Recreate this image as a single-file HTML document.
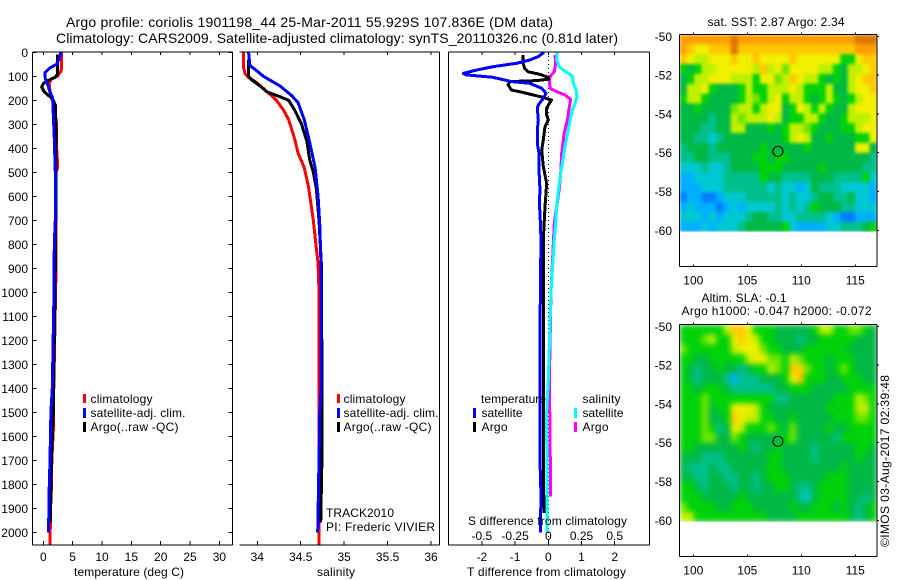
<!DOCTYPE html>
<html lang="en">
<head>
<meta charset="utf-8">
<title>Argo profile 1901198_44</title>
<style>
html,body{margin:0;padding:0;background:#fff;}
svg{display:block;font-family:"Liberation Sans",sans-serif;fill:#000;}
text{font-size:12px;}
.ttl{font-size:14px;}
</style>
</head>
<body>
<svg id="chart" xmlns="http://www.w3.org/2000/svg" width="900" height="580" viewBox="0 0 900 580">
<defs>
<filter id="blurSst" x="0" y="0" width="100%" height="100%" color-interpolation-filters="sRGB"><feGaussianBlur stdDeviation="1.6" edgeMode="duplicate"/></filter>
<filter id="blurSla" x="0" y="0" width="100%" height="100%" color-interpolation-filters="sRGB"><feGaussianBlur stdDeviation="3" edgeMode="duplicate"/></filter>
<clipPath id="clipSst"><rect x="679.4" y="34.5" width="197.6" height="197.2"/></clipPath>
<clipPath id="clipSla"><rect x="679.4" y="324.5" width="197.6" height="197.2"/></clipPath>
</defs>
<rect x="0" y="0" width="900" height="580" fill="#fff"/>
<text class="ttl" x="66" y="27" textLength="487">Argo profile: coriolis 1901198_44 25-Mar-2011 55.929S 107.836E (DM data)</text>
<text class="ttl" x="56" y="43" textLength="562">Climatology: CARS2009. Satellite-adjusted climatology: synTS_20110326.nc (0.81d later)</text>
<g clip-path="url(#clipSst)"><g id="sstCells" filter="url(#blurSst)"></g></g>
<g clip-path="url(#clipSla)"><g id="slaCells" filter="url(#blurSla)"></g></g>
<g id="marks"></g>
<g id="axes"></g>

<text x="74" y="576" textLength="110">temperature (deg C)</text>
<text x="317" y="576" textLength="38">salinity</text>
<text x="467" y="576" textLength="159">T difference from climatology</text>
<text x="468" y="525" textLength="159">S difference from climatology</text>

<g>
<rect x="83" y="394" width="3" height="9" fill="#f00"/>
<text x="90.5" y="403" textLength="62">climatology</text>
<rect x="83" y="408" width="3" height="10" fill="#00f"/>
<text x="90.5" y="417" textLength="95">satellite-adj. clim.</text>
<rect x="83" y="422" width="3" height="10" fill="#000"/>
<text x="90.5" y="431" textLength="88">Argo(..raw -QC)</text>
</g>
<g>
<rect x="337" y="394" width="3" height="9" fill="#f00"/>
<text x="343.5" y="403" textLength="62">climatology</text>
<rect x="337" y="408" width="3" height="10" fill="#00f"/>
<text x="343.5" y="417" textLength="95">satellite-adj. clim.</text>
<rect x="337" y="422" width="3" height="10" fill="#000"/>
<text x="343.5" y="431" textLength="88">Argo(..raw -QC)</text>
</g>
<text x="326" y="517" textLength="68">TRACK2010</text>
<text x="326" y="531" textLength="109">PI: Frederic VIVIER</text>

<g>
<text x="481" y="403" textLength="65">temperature</text>
<rect x="473" y="408" width="3" height="10" fill="#00f"/>
<text x="481.5" y="417" textLength="41">satellite</text>
<rect x="473" y="422" width="3" height="10" fill="#000"/>
<text x="481.5" y="431" textLength="26">Argo</text>
<text x="582.5" y="403" textLength="38">salinity</text>
<rect x="574" y="408" width="3" height="10" fill="#0ff"/>
<text x="582.5" y="417" textLength="41">satellite</text>
<rect x="574" y="422" width="3" height="10" fill="#f0f"/>
<text x="582.5" y="431" textLength="26">Argo</text>
</g>

<text x="707.5" y="26" textLength="137">sat. SST: 2.87 Argo: 2.34</text>
<text x="701.5" y="302" textLength="85">Altim. SLA: -0.1</text>
<text x="681.5" y="315" textLength="190">Argo h1000: -0.047 h2000: -0.072</text>
<text transform="translate(889,547) rotate(-90)" textLength="172">©IMOS 03-Aug-2017 02:39:48</text>
</svg>

<script>
// ---------- profile data ----------
const depthTicks = [0,100,200,300,400,500,600,700,800,900,1000,1100,1200,1300,1400,1500,1600,1700,1800,1900,2000];
const tempTicks = [0,5,10,15,20,25,30];
const salTicks = [34,34.5,35,35.5,36];
const salTickLabels = ['34','34.5','35','35.5','36'];
const tDiffTicks = [-2,-1,0,1,2];
const sDiffTicks = [-0.5,-0.25,0,0.25,0.5];
const sDiffTickLabels = ['-0.5','-0.25','0','0.25','0.5'];
const lonTicks = [100,105,110,115];
const latTicks = [-50,-52,-54,-56,-58,-60];

const tempClimDepth = [0,70,80,100,110,130,160,190,220,300,400,465,480,500,900,1000,1500,1550,1700,1800,1900,2053];
const tempClimValue = [3.1,3.1,3.0,2.4,1.4,1.0,1.14,1.4,1.8,2.27,2.27,2.44,2.44,2.16,2.16,2.1,1.7,1.75,1.45,1.4,1.25,1.14];
const tempArgoDepth = [10,90,105,120,130,145,165,185,200,220,300,400,500,650,800,900,1000,1500,1700,1900,1960];
const tempArgoValue = [2.44,2.44,2.0,0.57,0,-0.28,0.17,1.14,1.7,2.05,2.16,2.16,2.16,2.16,2.05,2.05,2.0,1.7,1.4,1.25,1.2];
const tempSatDepth = [0,20,50,65,85,110,130,165,190,260,360,500,700,800,1000,1400,1500,1700,1850,2000];
const tempSatValue = [2.95,2.84,2.27,1.14,0.28,0.34,0.68,1.14,1.6,1.7,1.87,2.05,2.05,1.87,1.82,1.53,1.3,1.14,0.97,0.9];

const salClimDepth = [0,60,90,105,125,170,200,240,280,360,420,480,560,700,800,880,1000,2053];
const salClimValue = [33.84,33.84,33.86,33.90,33.99,34.13,34.22,34.30,34.36,34.43,34.47,34.54,34.59,34.645,34.675,34.70,34.71,34.71];
const salArgoDepth = [30,100,115,140,165,185,200,240,300,370,450,500,570,700,900,1000,1500,1680,1960];
const salArgoValue = [33.90,33.90,33.935,34.03,34.11,34.26,34.36,34.43,34.51,34.57,34.605,34.645,34.68,34.71,34.74,34.74,34.745,34.745,34.73];
const salSatDepth = [0,55,70,100,140,180,210,280,370,480,600,720,900,1400,1500,1700,2000];
const salSatValue = [33.90,33.915,33.97,34.07,34.26,34.395,34.47,34.54,34.60,34.665,34.70,34.72,34.735,34.735,34.72,34.71,34.695];

const diffTSatDepth = [0,18,32,46,60,74,88,94,104,122,129,150,171,192,219,233,282,324,379,421,476,518,574,629,671,782,1000,1365,1700,1850,2000];
const diffTSatValue = [-0.13,-0.30,-0.56,-0.96,-1.67,-2.17,-2.56,-2.47,-1.67,-1.11,-0.56,-0.2,-0.07,-0.15,-0.3,-0.33,-0.3,-0.33,-0.33,-0.28,-0.28,-0.27,-0.25,-0.27,-0.25,-0.22,-0.24,-0.25,-0.25,-0.22,-0.24];
const diffTArgoDepth = [11,46,67,81,92,104,112,118,122,136,157,164,178,188,199,208,233,261,282,310,365,407,476,546,588,643,782,1365,1700,1920];
const diffTArgoValue = [-0.76,-0.76,-0.71,-0.61,-0.25,0,0,-0.35,-1.16,-1.21,-1.11,-0.86,-0.45,-0.15,0.1,0.05,-0.05,-0.05,0,-0.1,-0.15,-0.2,-0.15,-0.05,-0.07,-0.1,-0.15,-0.15,-0.15,-0.13];
const diffSSatDepth = [0,32,60,74,88,101,129,157,185,213,240,282,338,393,449,504,574,643,713,782,1000,1365,1500,2000];
const diffSSatValue = [0.068,0.063,0.083,0.114,0.152,0.182,0.189,0.21,0.215,0.202,0.182,0.164,0.146,0.126,0.109,0.093,0.076,0.063,0.056,0.045,0.02,0,-0.013,-0.008];
const diffSArgoDepth = [11,46,81,101,122,150,164,178,196,226,282,338,421,504,574,713,1000,1365,1700,1850];
const diffSArgoValue = [0.05,0.056,0.045,0.013,0.008,0.013,0.063,0.126,0.169,0.159,0.144,0.119,0.101,0.093,0.081,0.045,0.02,0.008,0.015,0.015];

// ---------- map data: colour level per grid cell, north to south ----------
const sstLevels = [
[10,10,10,10,10,10,10,11,10,10,10,10,10,10,10,10,10,10,10,10,10,10,10,10,11,11,11],
[10,9,8,8,9,9,9,11,9,9,9,9,9,9,9,9,9,9,9,9,9,9,9,9,10,10,10],
[9,8,7,7,8,8,8,9,8,8,9,8,8,8,8,9,8,8,8,8,8,8,5,5,8,9,9],
[5,4,5,7,7,8,8,8,8,8,7,9,7,8,6,8,8,8,8,7,7,5,4,7,7,8,9],
[4,5,7,7,8,8,8,7,7,7,5,8,8,6,7,9,8,7,7,5,4,5,4,7,8,9,9],
[4,7,7,8,5,4,4,4,5,7,5,5,7,7,7,8,7,5,5,5,7,4,4,7,8,8,9],
[5,7,7,5,4,4,4,4,5,7,6,5,7,8,5,7,7,5,4,5,7,5,4,5,7,8,8],
[4,4,5,4,4,4,4,6,7,7,5,7,8,8,4,5,8,7,5,7,5,4,4,7,8,8,8],
[4,4,4,4,3,4,4,7,6,7,7,7,8,7,4,5,5,7,7,5,4,4,5,7,7,7,8],
[4,4,4,3,3,4,4,7,7,4,4,4,5,4,5,7,7,6,5,4,4,4,5,5,7,8,8],
[4,4,3,3,2,3,4,4,4,4,4,4,4,4,5,7,8,7,4,4,5,4,4,4,5,5,8],
[3,4,4,4,3,4,4,4,4,4,4,5,4,4,4,4,4,5,4,4,4,4,4,4,8,8,4],
[3,3,4,4,3,3,3,4,4,4,5,5,4,5,5,4,4,4,4,4,4,4,4,4,4,4,3],
[2,2,2,3,2,2,3,4,4,4,4,5,5,5,4,4,4,4,4,5,4,4,4,4,4,3,3],
[1,1,2,2,2,2,3,3,3,3,3,5,4,4,3,3,3,3,4,4,4,3,3,3,3,5,2],
[1,1,1,2,2,2,3,3,3,3,3,3,2,3,2,2,1,2,4,3,3,3,2,2,2,2,1],
[0,1,1,0,0,1,2,2,2,3,3,3,3,3,2,3,2,2,3,4,4,3,3,4,2,2,1],
[1,2,1,1,1,0,1,2,1,2,2,2,2,3,2,3,2,3,5,4,4,4,3,3,2,2,2],
[2,2,2,1,2,1,2,2,2,3,4,4,3,3,2,2,3,3,3,3,2,1,0,0,1,1,1],
[1,1,1,2,1,2,2,2,3,4,4,4,4,4,5,2,1,1,1,1,2,2,3,3,3,4,5]
];
const slaLevels = [
[5,5,5,5,5,5,7,9,9,8,5,5,5,4,4,4,4,4,5,7,7,5,5,6,6,5,4],
[5,5,5,6,7,5,5,8,9,8,7,5,5,4,4,4,3,4,4,5,5,5,5,5,4,4,4],
[6,5,5,5,5,5,5,7,8,8,8,6,5,5,4,4,4,5,5,5,5,5,5,4,4,4,4],
[5,5,4,4,5,5,5,5,5,7,8,8,6,6,5,7,6,5,5,5,4,5,5,5,4,4,4],
[5,4,3,4,4,5,4,4,3,4,5,5,7,6,5,9,9,6,5,5,4,5,6,5,4,4,4],
[5,4,3,4,4,4,3,1,3,3,3,4,4,4,5,8,9,5,5,5,4,4,5,5,5,4,4],
[5,5,4,5,5,5,4,3,3,3,3,3,3,4,4,5,5,5,4,4,4,4,4,5,5,5,5],
[5,5,5,6,5,5,5,5,5,5,5,5,5,3,3,4,4,4,4,4,4,5,5,5,7,6,5],
[5,5,5,6,4,5,5,8,8,8,7,5,4,4,4,4,4,4,4,4,5,5,5,5,7,7,5],
[5,5,5,6,4,4,5,9,8,7,7,5,5,4,4,5,4,4,4,4,4,5,5,5,6,6,5],
[5,5,5,6,5,3,4,8,7,5,5,5,6,5,4,6,4,4,4,4,5,4,4,5,5,5,5],
[5,5,5,6,6,4,4,6,5,4,4,4,4,4,5,6,4,4,4,4,4,3,5,5,5,5,5],
[5,5,4,4,4,4,4,4,5,4,3,4,4,5,4,4,4,4,3,4,4,4,4,4,5,5,4],
[4,4,4,3,3,3,4,4,4,4,4,4,5,5,4,4,4,4,3,4,4,4,4,4,5,4,4],
[4,3,3,3,4,3,3,4,4,4,4,4,5,5,4,4,4,4,4,4,4,4,5,4,4,4,4],
[4,4,3,3,4,4,3,3,4,4,3,4,5,5,5,4,4,4,4,4,5,5,5,4,4,4,4],
[5,5,4,3,4,4,4,3,4,4,3,4,4,5,5,4,3,3,4,5,5,5,5,4,4,4,4],
[5,5,5,4,4,4,4,4,5,4,4,4,4,4,4,4,3,2,4,5,5,5,5,4,4,3,4],
[6,5,5,5,5,4,4,5,5,5,4,4,4,4,4,5,4,4,5,5,5,4,5,4,3,4,5],
[7,7,5,5,5,5,5,5,5,5,5,5,4,4,4,4,5,5,5,5,5,5,5,4,3,4,5]
];
const levelColors = ['#0080ff','#00b0ff','#00c8d2','#00c08c','#00b846','#00d20a','#6ee600','#bef000','#f0f000','#ffc800','#ffa000','#dc7800'];
const profileLon = [107.836];
const profileLat = [-55.929];

// ---------- axis functions ----------
const NS = 'http://www.w3.org/2000/svg';
const marks = document.getElementById('marks');
const axes = document.getElementById('axes');
const sstCells = document.getElementById('sstCells');
const slaCells = document.getElementById('slaCells');
const yDepth = d => 52.3 + 0.24 * d;
const xTemp = t => 43.3 + 5.87 * t;
const xSal = s => 257.3 + 86.85 * (s - 34);
const xTDiff = t => 548.3 + 33.2 * t;
const xSDiff = s => 548.3 + 132.8 * s;
const xLon = l => 693.3 + 10.8 * (l - 100);
const yLatTop = l => 36.3 + 19.4 * (-50 - l);
const yLatBot = l => 326.3 + 19.4 * (-50 - l);

function drawLine(parent, x1, y1, x2, y2, name) {
  const el = document.createElementNS(NS, 'line');
  
  
  el.setAttribute('x1', x1); el.setAttribute('y1', y1);
  el.setAttribute('x2', x2); el.setAttribute('y2', y2);
  el.setAttribute('stroke', '#000');
  el.setAttribute('stroke-width', '1');
  el.setAttribute('shape-rendering', 'crispEdges');
  parent.appendChild(el);
  return el;
}
function drawText(str, x, y, anchor, name) {
  const el = document.createElementNS(NS, 'text');
  
  
  el.setAttribute('x', x); el.setAttribute('y', y);
  el.setAttribute('text-anchor', anchor);
  el.textContent = str;
  axes.appendChild(el);
}
function drawProfile(depths, values, xFn, color, name) {
  const el = document.createElementNS(NS, 'polyline');
  
  
  el.setAttribute('points', depths.map((d, i) => xFn(values[i]).toFixed(1) + ',' + yDepth(d).toFixed(1)).join(' '));
  el.setAttribute('fill', 'none');
  el.setAttribute('stroke', color);
  el.setAttribute('stroke-width', '3');
  el.setAttribute('stroke-linejoin', 'round');
  el.setAttribute('shape-rendering', 'crispEdges');
  marks.appendChild(el);
}
function drawFrame(l, t, r, b, sides, name) {
  if (sides.includes('t')) drawLine(axes, l, t, r, t, name + '-top-edge');
  if (sides.includes('b')) drawLine(axes, l, b, r, b, name + '-bottom-edge');
  if (sides.includes('l')) drawLine(axes, l, t, l, b, name + '-left-edge');
  if (sides.includes('r')) drawLine(axes, r, t, r, b, name + '-right-edge');
}
function drawHeatmap(parent, levels, left, right, top, bottom, name) {
  const rows = levels.length, cols = levels[0].length;
  const w = (right - left) / cols, h = (bottom - top) / rows;
  levels.forEach((row, r) => row.forEach((v, c) => {
    const el = document.createElementNS(NS, 'rect');
    
    
    el.setAttribute('x', (left + c * w).toFixed(2));
    el.setAttribute('y', (top + r * h).toFixed(2));
    el.setAttribute('width', (w + 0.4).toFixed(2));
    el.setAttribute('height', (h + 0.4).toFixed(2));
    el.setAttribute('fill', levelColors[v]);
    parent.appendChild(el);
  }));
}

// ---------- profile panels ----------
drawProfile(tempClimDepth, tempClimValue, xTemp, '#f00', 'temperature-climatology-line');
drawProfile(tempArgoDepth, tempArgoValue, xTemp, '#000', 'temperature-argo-line');
drawProfile(tempSatDepth, tempSatValue, xTemp, '#00f', 'temperature-satellite-line');
drawProfile(salClimDepth, salClimValue, xSal, '#f00', 'salinity-climatology-line');
drawProfile(salArgoDepth, salArgoValue, xSal, '#000', 'salinity-argo-line');
drawProfile(salSatDepth, salSatValue, xSal, '#00f', 'salinity-satellite-line');

const zeroLine = drawLine(marks, xTDiff(0), 52, xTDiff(0), 545, 'zero-difference-line');
zeroLine.setAttribute('stroke-dasharray', '1 3');
drawProfile(diffSArgoDepth, diffSArgoValue, xSDiff, '#f0f', 's-difference-argo-line');
drawProfile(diffSSatDepth, diffSSatValue, xSDiff, '#0ff', 's-difference-satellite-line');
drawProfile(diffTArgoDepth, diffTArgoValue, xTDiff, '#000', 't-difference-argo-line');
drawProfile(diffTSatDepth, diffTSatValue, xTDiff, '#00f', 't-difference-satellite-line');

drawFrame(32.5, 52, 232.5, 545, 'tblr', 'temperature-panel');
drawFrame(239.5, 52, 439.5, 545, 'tbr', 'salinity-panel');
drawFrame(448.5, 52, 649.5, 545, 'tblr', 'difference-panel');

depthTicks.forEach(d => {
  const y = yDepth(d);
  drawLine(axes, 32.5, y, 36.5, y, 'depth-tick');
  drawLine(axes, 228.5, y, 232.5, y, 'depth-tick-right');
  drawText(String(d), 28, y + 4.5, 'end', 'depth-tick-label');
});
tempTicks.forEach(t => {
  const x = xTemp(t);
  drawLine(axes, x, 52, x, 55, 'temperature-tick-top');
  drawLine(axes, x, 541, x, 545, 'temperature-tick');
  drawText(String(t), x, 561, 'middle', 'temperature-tick-label');
});
salTicks.forEach((s, i) => {
  const x = xSal(s);
  drawLine(axes, x, 52, x, 55, 'salinity-tick-top');
  drawLine(axes, x, 541, x, 545, 'salinity-tick');
  drawText(salTickLabels[i], x, 561, 'middle', 'salinity-tick-label');
});
tDiffTicks.forEach(t => {
  const x = xTDiff(t);
  drawLine(axes, x, 541, x, 545, 't-difference-tick');
  drawText(String(t), x, 561, 'middle', 't-difference-tick-label');
});
sDiffTicks.forEach((s, i) => {
  const x = xSDiff(s);
  drawLine(axes, x, 52, x, 55, 's-difference-tick');
  drawText(sDiffTickLabels[i], x, 540, 'middle', 's-difference-tick-label');
});

// ---------- maps ----------
const lonLeft = xLon(98.72), lonRight = xLon(117);
drawHeatmap(sstCells, sstLevels, lonLeft, lonRight, 34.5, 231.7, 'sst-map');
drawHeatmap(slaCells, slaLevels, lonLeft, lonRight, 324.5, 521.7, 'sla-map');

function drawMapAxes(yFn, top, bottom, name) {
  drawFrame(lonLeft, top, lonRight, bottom, 'tblr', name);
  lonTicks.forEach(l => {
    const x = xLon(l);
    drawLine(axes, x, top - 2, x, top, name + '-lon-tick-top');
    drawLine(axes, x, bottom - 2, x, bottom, name + '-lon-tick');
    drawText(String(l), x, bottom + 18, 'middle', name + '-lon-label');
  });
  latTicks.forEach(l => {
    const y = yFn(l);
    drawLine(axes, lonRight, y, lonRight + 2, y, name + '-lat-tick');
    drawText(String(l), 672, y + 4.5, 'end', name + '-lat-label');
  });
  const c = document.createElementNS(NS, 'circle');
  
  
  c.setAttribute('cx', xLon(profileLon[0]));
  c.setAttribute('cy', yFn(profileLat[0]));
  c.setAttribute('r', '5');
  c.setAttribute('fill', 'none');
  c.setAttribute('stroke', '#000');
  c.setAttribute('stroke-width', '1');
  axes.appendChild(c);
}
drawMapAxes(yLatTop, 34.5, 266.5, 'sst-map');
drawMapAxes(yLatBot, 324.5, 556.5, 'sla-map');
</script>
</body>
</html>
